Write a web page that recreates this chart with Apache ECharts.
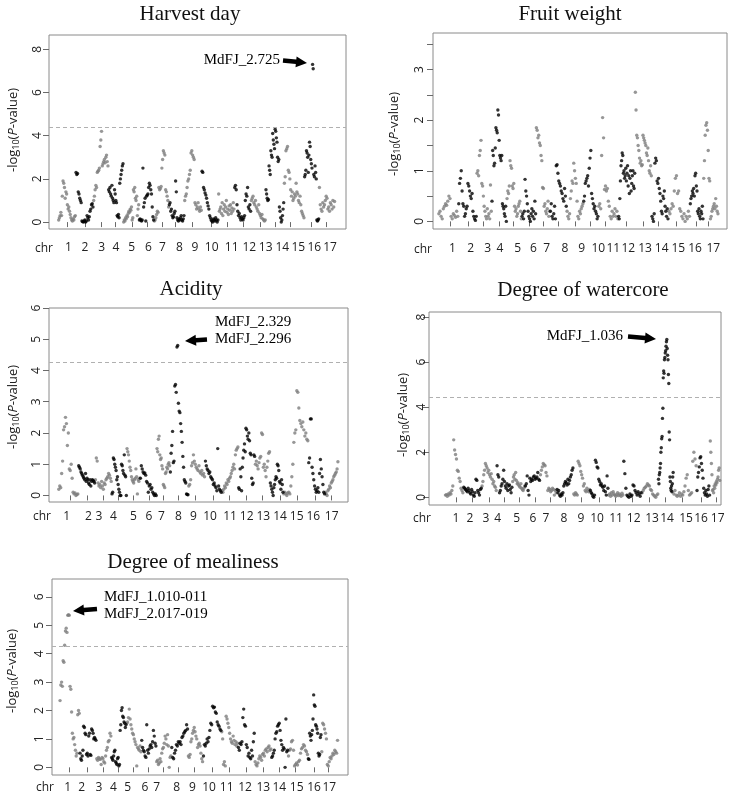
<!DOCTYPE html>
<html><head><meta charset="utf-8">
<script src="https://cdn.jsdelivr.net/npm/echarts@6/dist/echarts.min.js"></script>
<style>html,body{margin:0;padding:0;background:#fff}#c{width:742px;height:805px}</style>
</head><body><div id="c"></div>
<script>
const chrLabels = ['1','2','3','4','5','6','7','8','9','10','11','12','13','14','15','16','17'];

// ---------- Harvest day ----------
const harvestValues = [
 [0.1,0.2,0.3,0.45,0.3,1.2,1.9,1.8,1.6,1.1,1.4,1.3,0.8,0.6,0.7,0.5,0.35,0.2,0.1,0.05,0.15,0.1,0.25,0.3],
 [2.3,2.2,2.25,1.4,1.3,1.1,1.0,0.9,0.05,0.02,0.0,0.05,0.1,0.0,0.05,0.3,0.2,0.1,0.25,0.5,0.6,0.8,0.85,0.7],
 [1.0,1.2,1.5,1.7,1.6,2.3,2.35,2.4,2.5,3.5,3.8,4.2,2.6,2.7,2.8,2.9,2.75,3.0,3.1,2.8,2.6],
 [1.5,1.4,1.6,1.3,1.2,1.7,1.1,1.0,0.9,1.5,1.3,1.0,0.9,0.3,0.25,0.35,0.2,1.8,2.0,2.2,2.4,2.6,2.7],
 [0.0,0.1,0.05,0.2,0.15,0.3,0.25,0.4,0.5,0.45,0.6,0.55,0.7,0.1,0.2,1.5,1.4,1.6,1.1,1.0,1.2,0.3,0.6,0.8],
 [0.1,0.15,0.1,0.05,0.1,2.5,0.7,0.9,1.1,0.05,1.2,1.25,1.3,1.6,1.8,1.7,1.5,1.3,0.7,0.25,0.1],
 [0.05,0.1,0.2,0.35,0.5,0.45,1.6,1.5,1.55,1.65,2.5,2.9,3.3,3.2,3.1,1.5,1.4,1.2,1.0,0.7],
 [0.8,0.9,0.5,0.6,0.3,0.2,0.25,0.4,0.5,1.9,1.4,0.2,0.1,0.05,0.15,0.1,0.2,0.3,0.1,0.05,0.15,0.3],
 [1.0,1.2,1.3,1.6,1.9,2.0,2.2,2.4,3.2,3.3,3.1,3.0,2.9,0.9,0.8,0.6,0.7,0.9,0.6,0.5,0.7,0.55],
 [2.35,2.3,1.6,1.5,1.35,1.25,1.1,0.9,0.75,0.6,0.3,0.2,0.1,0.05,0.0,0.15,0.1,0.05,0.2,0.1,0.0,0.1],
 [1.3,0.5,0.6,0.7,0.4,0.9,0.3,0.6,0.8,0.5,0.7,1.0,0.45,0.6,0.35,0.75,0.55,0.8,0.4,0.65,0.5,0.9,0.6],
 [1.6,1.7,1.5,0.8,0.5,0.3,0.4,0.2,0.1,0.25,0.15,0.1,0.2,0.3,1.0,1.3,1.2,1.6,0.7,0.6,0.8,0.5],
 [1.0,1.1,1.2,0.9,0.8,1.0,0.7,0.6,0.5,0.8,0.4,0.3,0.2,0.35,0.15,0.1,0.05,0.1],
 [1.5,1.3,1.1,1.0,1.05,2.6,2.4,2.2,3.3,3.1,3.0,4.1,3.8,3.6,3.4,4.3,4.2,3.9,3.7,3.0,2.8,2.9,0.7,0.5,0.2,0.0,0.1,0.3,0.6,0.9],
 [1.8,2.1,3.3,3.4,3.5,2.4,2.3,2.0,1.5,1.2,1.4,1.0,1.1,1.3,1.2,1.8,1.4,1.3,1.0,0.9,1.2,0.8,0.5,0.4,0.3,0.2],
 [2.1,2.2,2.4,3.3,3.2,3.0,2.3,3.1,3.7,3.5,2.9,2.7,2.5,7.3,7.1,2.2,2.1,2.6,2.3,2.0,0.1,0.05,0.1,0.15],
 [1.6,0.8,0.6,0.5,0.9,0.7,0.8,1.0,1.2,1.1,0.6,0.7,0.5,0.9,0.8,0.6,1.0,0.7,0.95]
];
const harvestBounds = [40,92,145,190,235,282,327,372,418,470,520,568,618,662,717,778,822,870];
const harvestTicks = [68,120,170,212,262,308,352,392,443,500,547,595,645,690,735,800,843];
const harvestLabelPos = [70,120,170,213,260,310,352,403,450,500,560,613,662,712,760,808,855];
const harvestYTicks = [0,2,4,6,8];
const harvestThreshold = 4.4;

// ---------- Fruit weight ----------
const fruitValues = [
 [0.15,0.2,0.1,0.05,0.25,0.3,0.35,0.32,0.4,0.5,0.45,0.1,0.05,0.15,0.12,0.08,0.2,0.1],
 [0.35,0.75,0.85,1.0,0.6,0.35,0.3,0.1,0.15,0.25,0.3,0.75,0.7,0.6,0.5,0.45,0.55,0.2,0.1,0.05,0.02,0.1],
 [0.95,1.0,0.9,1.3,1.4,1.6,0.75,0.7,0.5,0.3,0.2,0.1,0.05,0.25,0.1,0.15,0.05,0.72,0.2],
 [0.4,1.4,1.3,1.1,1.15,1.45,1.85,1.8,1.75,2.2,2.1,1.6,1.3,1.25,1.2,1.3,0.35,0.3,0.25,0.15,0.1,0.3,0.0],
 [0.45,0.6,0.55,0.7,1.2,1.1,1.05,0.7,0.65,0.75,0.3,0.2,0.25,0.1,0.15,0.3,0.35,0.4,0.2,0.05],
 [0.1,0.15,0.05,0.2,0.83,0.6,0.5,0.35,0.2,0.1,0.05,0.0,0.15,0.25,0.1,0.2,0.05,0.4,0.15],
 [1.85,1.8,1.65,1.7,1.55,1.5,1.3,1.2,0.67,0.65,0.3,0.35,0.2,0.15,0.25,0.4,0.1,0.2],
 [0.2,0.35,0.1,0.05,0.15,0.3,0.05,1.1,1.12,0.95,0.8,0.75,0.7,0.6,0.55,0.45,0.4,0.65,0.5,0.3],
 [0.2,0.1,0.05,0.15,0.45,0.6,0.8,0.75,1.15,1.0,0.85,0.75,0.4,0.1,0.05,0.2,0.15,0.25,0.3,0.35],
 [0.4,0.5,0.75,0.8,0.85,0.9,0.7,1.05,1.25,1.4,0.55,0.45,0.35,0.25,0.3,0.2,0.15,0.05,0.1],
 [0.3,0.35,0.25,1.3,2.05,1.65,0.63,0.7,0.6,0.65,0.4,0.3,0.1,0.05,0.2,0.1,0.15,0.25,0.1,0.2,0.05],
 [0.1,0.05,0.45,0.8,1.1,1.2,1.35,1.3,0.95,1.0,0.85,0.9,1.05,0.8,0.95,1.1,0.7,0.9,0.55,0.85,1.0,0.6,0.75,0.9,1.0,0.7,0.65,0.95],
 [2.55,2.2,1.7,1.65,1.5,1.4,1.25,1.15,1.2,1.1,1.12,1.7,1.65,1.6,1.55,1.5,1.35,1.3,1.45,1.2,1.0,0.95,1.1,0.9],
 [0.1,0.05,0.0,0.15,1.15,1.25,1.2,0.8,0.75,0.85,0.65,0.55,0.4,0.2,0.15,0.5,0.45,0.6,0.3,0.2,0.1,0.25,0.05],
 [0.2,0.15,0.25,0.35,0.3,0.6,0.85,0.9,0.55,0.6,0.25,0.2,0.1,0.05,0.15,0.0,0.1,0.05,0.2,0.1],
 [0.35,0.45,0.5,0.6,0.55,0.65,0.5,0.9,0.95,0.7,0.6,0.2,0.15,0.25,0.1,0.05,0.2,0.15,0.3,0.05],
 [0.85,1.2,1.7,1.9,1.95,1.8,1.4,0.85,0.8,0.05,0.1,0.2,0.25,0.3,0.35,0.25,0.45,0.3,0.2,0.15]
];
const fruitBounds = [25,85,140,185,230,275,318,360,410,460,505,565,615,665,715,780,820,865];
const fruitTicks = [62,115,160,207,250,297,340,385,435,480,525,590,640,685,740,800,835];
const fruitLabelPos = [67,122,173,210,263,310,350,405,455,505,550,595,645,695,745,795,850];
const fruitYTicks = [0,0.5,1,1.5,2,2.5,3,3.5];
const fruitYLabels = [0,1,2,3];

// ---------- Acidity ----------
const acidityValues = [
 [0.2,0.3,0.25,0.7,1.1,2.1,2.2,2.5,2.3,1.6,2.0,0.85,0.8,1.0,0.55,0.1,0.05,0.08,0.0,0.03,0.05],
 [0.95,0.9,0.85,0.75,0.7,0.65,0.6,0.55,0.5,0.7,0.45,0.55,0.5,0.4,0.35,0.5,0.3,0.45,0.5,0.48,0.45,0.4],
 [0.5,1.2,1.1,0.4,0.3,0.35,0.25,0.45,0.3,0.2,0.4,0.35,0.5,0.55,0.6,0.7,0.65,0.55,0.45],
 [0.05,0.1,1.2,1.15,1.0,0.9,0.8,0.5,0.6,0.35,0.2,0.1,0.0,0.0,1.0,0.95,0.8,0.7,1.3,0.65,0.6,0.0],
 [1.5,1.4,1.3,1.1,0.9,0.8,0.6,0.5,0.45,0.4,0.5,0.55,0.85,0.6,0.05,0.5,0.45,0.55],
 [0.55,0.95,0.85,0.75,0.7,0.72,0.65,0.45,0.4,0.1,0.3,0.35,0.2,0.25,0.1,0.05,0.0,0.05,0.0],
 [1.5,1.4,1.8,1.9,1.3,1.15,1.2,0.95,0.85,0.35,0.3,0.25,0.7,0.75,0.9,0.85,1.0,1.05,0.95],
 [0.75,1.35,1.6,2.05,1.05,1.1,3.5,3.55,3.3,4.75,4.8,2.95,2.7,2.65,2.3,2.05,1.7,1.25,0.9,0.5,0.45,0.4,0.05,0.03,0.02],
 [0.3,0.35,0.5,0.95,1.05,1.3,1.1,1.0,0.9,0.85,0.8,0.95,0.75,0.7,0.8,0.65,0.7,0.6],
 [1.1,0.95,0.85,0.8,0.7,0.75,0.6,0.55,0.5,0.35,0.4,0.3,0.25,0.15,1.5,0.3,0.2,0.15,0.1],
 [0.15,0.1,0.2,0.3,0.25,0.4,0.35,0.5,0.45,0.55,0.6,0.7,0.8,0.9,1.0,0.85,1.3,1.45,1.5,1.55],
 [0.25,0.2,0.85,0.6,0.15,0.9,1.2,1.45,1.65,1.4,2.15,2.1,1.9,1.8,2.0,1.75,1.35,1.3,0.55,0.35,0.4,1.3,1.25],
 [1.0,1.1,0.95,0.85,1.05,1.2,1.25,2.0,1.95,0.9,1.0,0.8,0.6,0.9,1.1,1.35,1.4],
 [0.4,0.3,0.2,0.1,0.0,0.25,0.35,0.5,0.6,0.55,1.0,0.95,0.8,0.45,0.4,0.2,0.5,0.35,0.1],
 [0.05,0.1,0.05,0.0,0.08,0.1,0.05,0.3,0.6,1.0,1.7,2.0,2.1,3.35,3.3,2.8,2.4,2.3,2.2,2.35,2.1,1.9,2.0,1.8,1.75],
 [1.05,1.2,2.45,2.45,0.9,0.7,0.5,0.3,0.2,0.1,0.15,0.25,0.1,0.7,1.15,0.85,0.6,0.35,0.1,0.05],
 [0.1,0.05,0.0,0.15,0.2,0.3,0.25,0.4,0.45,0.5,0.6,0.65,0.7,0.75,0.85,1.08]
];
const acidityBounds = [40,100,150,200,245,285,335,375,430,480,530,580,630,675,715,790,840,880];
const acidityTicks = [75,128,175,220,265,312,355,400,450,505,553,605,652,705,757,812,860];
const acidityLabelPos = [65,130,162,205,265,312,349,400,445,495,555,605,655,705,755,805,860];
const acidityYTicks = [0,1,2,3,4,5,6];
const acidityThreshold = 4.25;

// ---------- Degree of watercore ----------
const watercoreValues = [
 [0.1,0.12,0.05,0.15,0.1,0.2,0.15,0.3,0.5,2.55,2.1,1.9,1.7,1.2,1.15,0.85,0.7,0.4,0.3,0.2],
 [0.45,0.4,0.35,0.3,0.25,0.4,0.3,0.2,0.15,0.35,0.25,0.1,0.05,0.2,0.8,0.75,0.3,0.2,0.1,0.35,0.4],
 [0.5,0.7,1.0,1.2,1.5,1.4,1.3,1.1,1.2,1.0,0.9,1.05,0.8,0.6,0.7,0.5,0.45,0.3],
 [1.4,1.0,0.9,0.2,0.3,0.5,0.6,0.8,1.2,0.7,0.5,0.4,0.6,0.3,0.5,0.55,0.35,0.2,0.45],
 [0.7,0.9,1.0,0.8,1.1,0.75,0.6,0.65,0.55,0.5,0.45,0.6,0.4,0.35,0.3,0.4,0.5],
 [0.5,0.6,0.95,0.3,0.1,0.85,0.7,0.8,0.75,0.9,0.95,0.8,0.85,0.9,1.1,0.8,0.75],
 [1.0,1.2,1.35,1.5,1.45,1.4,1.1,0.95,0.3,0.4,0.35,0.25,0.3,0.4,0.35,0.1,0.3,0.2],
 [0.35,0.2,0.3,0.1,0.05,0.15,0.1,0.2,0.5,0.6,0.7,0.65,0.55,0.8,0.6,0.75,0.9,1.0,1.2,1.3],
 [0.15,0.1,0.2,0.15,0.1,1.6,1.5,1.4,1.15,1.0,0.85,0.5,0.6,0.3,0.25,0.4,0.3,0.25,0.35],
 [0.3,0.2,0.15,0.05,0.0,0.1,1.65,1.55,1.35,1.3,0.8,0.7,0.55,0.6,0.5,0.45,0.3,0.5,0.25,0.1,0.95,0.4],
 [0.1,0.15,0.05,0.2,0.1,0.25,0.15,0.1,0.05,0.12,0.2,0.08,0.15,0.1,0.05,0.18,0.1],
 [1.6,1.05,0.4,0.1,0.05,0.0,0.15,0.05,0.1,0.55,0.5,0.3,0.2,0.1,0.25,0.15,0.05,0.2],
 [0.2,0.3,0.4,0.45,0.5,0.6,0.55,0.5,0.35,0.3,0.15,0.1,0.05,0.0,0.1,0.15],
 [0.8,0.6,1.0,1.1,1.3,1.5,2.0,2.2,2.6,2.7,3.5,3.95,5.3,5.6,5.5,6.1,6.2,6.4,6.5,6.7,6.9,7.0,6.6,6.3,6.1,5.45,5.05,2.9,2.55,0.9,0.7,0.4,0.3,0.5,0.25,0.6,0.9,1.1],
 [0.15,0.3,0.1,0.05,0.1,0.2,0.05,0.15,0.1,0.25,0.5,0.85,1.0,0.3,0.1,0.15,0.2,1.6,2.0,1.7,1.4],
 [0.3,0.9,1.1,1.35,1.75,1.8,1.5,1.2,0.85,0.4,0.2,0.1,0.3,0.15,0.05,0.35,0.5,0.1],
 [2.5,2.0,1.5,1.0,0.3,0.35,0.2,0.5,0.4,0.6,0.55,0.7,0.65,0.8,0.9,1.2,1.3,0.75]
];
const watercoreBounds = [60,115,170,215,262,300,345,395,445,495,550,595,650,700,745,815,855,885];
const watercoreTicks = [95,143,193,238,283,330,375,422,470,522,572,622,672,720,772,830,875];
const watercoreLabelPos = [93,135,183,218,275,324,363,417,468,516,573,626,681,726,783,828,878];
const watercoreYTicks = [0,2,4,6,8];
const watercoreThreshold = 4.42;

// ---------- Degree of mealiness ----------
const mealinessValues = [
 [2.35,2.9,3.0,2.85,3.75,3.7,4.3,4.8,4.9,4.75,5.35,5.37,5.35,2.85,2.75,1.95,1.2,1.0,1.05,0.8,0.6,0.4,0.5,1.85,2.0,1.9],
 [0.5,0.3,0.25,0.4,0.6,1.45,1.4,1.2,1.15,0.45,0.5,0.4,1.1,1.2,0.45,0.42,1.35,1.3,1.2,1.0,1.05,1.0,0.95],
 [0.3,0.25,0.35,0.3,0.28,0.1,0.35,0.3,0.2,0.15,0.4,0.6,0.7,0.9,0.95,1.2,1.1],
 [0.35,0.3,0.25,0.4,0.55,0.6,0.2,0.15,0.1,0.3,0.35,0.05,0.1,1.3,1.5,2.0,2.1,1.8,1.75,1.6,1.55,1.4,1.5],
 [1.55,1.6,1.75,2.05,1.7,1.5,1.35,1.2,1.15,1.0,0.9,0.8,0.05,0.7,0.65,0.6,0.75,0.55],
 [0.95,0.7,0.6,0.55,0.4,0.35,1.5,0.6,0.5,0.65,0.75,0.8,0.7,0.9,1.3,1.1,0.85,0.75],
 [0.2,0.25,0.1,0.15,0.3,0.2,0.5,0.65,0.7,0.85,1.1,1.0,0.8,1.15,0.75,0.0,0.35,0.4],
 [0.7,0.35,0.3,0.5,0.6,0.8,0.75,0.9,0.85,0.9,0.8,1.05,1.1,1.2,1.25,1.3,1.5,1.35],
 [0.4,0.35,0.45,0.9,1.0,1.2,1.3,1.4,1.25,1.1,1.0,0.7,0.8,0.85,0.75,0.5,0.3,0.2],
 [0.4,0.8,0.75,0.85,1.0,0.9,1.05,1.3,1.55,1.5,2.15,2.1,2.12,1.95,1.9,1.6,1.5,1.45,1.35,1.3],
 [1.25,1.0,0.1,0.2,0.05,1.8,1.7,1.55,1.4,1.2,1.0,0.9,0.85,1.1,0.95,0.8,0.9,0.75,0.85],
 [0.7,0.6,0.85,0.8,0.9,1.75,2.05,1.5,1.45,0.8,0.7,0.4,0.5,0.35,0.3,0.6,0.4,0.9,1.2],
 [0.2,0.1,0.05,0.15,0.3,0.4,0.35,0.25,0.45,0.5,0.4,0.6,0.65,0.55,0.7,0.75,0.6,0.65],
 [0.35,0.4,0.5,0.6,1.0,1.2,1.25,1.45,1.5,1.55,1.3,0.95,0.8,0.6,0.7,0.65,0.0,1.7,0.55,0.6],
 [0.4,0.6,0.65,0.9,0.95,0.6,0.05,0.1,0.15,0.08,0.2,0.25,0.5,0.65,0.7,0.8,0.75,0.6,0.55,0.45],
 [0.3,0.28,1.2,1.1,0.95,1.15,1.3,1.7,2.55,2.2,2.15,1.5,1.45,1.35,1.2,0.5,0.4,0.45,1.05,1.15],
 [0.55,1.55,1.5,1.35,1.2,1.0,0.1,0.05,0.2,0.35,0.3,0.4,0.5,0.45,0.6,0.55,0.5,0.95]
];
const mealinessBounds = [35,95,145,190,235,280,325,370,420,465,520,570,620,670,720,780,820,870];
const mealinessTicks = [65,118,165,210,255,302,345,392,440,492,545,595,645,695,742,800,840];
const mealinessLabelPos = [59,101,153,196,239,291,326,386,433,483,536,591,646,694,746,798,844];
const mealinessYTicks = [0,1,2,3,4,5,6];
const mealinessThreshold = 4.27;

// ---------- layout ----------
const panels = [
 {title:'Harvest day', values:harvestValues, bounds:harvestBounds, ticks:harvestTicks, labelPos:harvestLabelPos, yTicks:harvestYTicks, yLabels:harvestYTicks, thr:harvestThreshold,
  grid:{left:49,top:35,width:297,height:194}, xr:[12,903], yr:[-0.32,8.66], titleXY:[190,14], yName:[13,130], chr:[44,249], xOff:4, xMar:9, yMar:5},
 {title:'Fruit weight', values:fruitValues, bounds:fruitBounds, ticks:fruitTicks, labelPos:fruitLabelPos, yTicks:fruitYTicks, yLabels:fruitYLabels, thr:null,
  grid:{left:433,top:33,width:294,height:196}, xr:[9,891], yr:[-0.15,3.72], titleXY:[570,14], yName:[394,134], chr:[423,250], xOff:3, xMar:11, yMar:7},
 {title:'Acidity', values:acidityValues, bounds:acidityBounds, ticks:acidityTicks, labelPos:acidityLabelPos, yTicks:acidityYTicks, yLabels:acidityYTicks, thr:acidityThreshold,
  grid:{left:49,top:308,width:299,height:194}, xr:[12,909], yr:[-0.21,6.0], titleXY:[191,289], yName:[13,407], chr:[42,517], xOff:4, xMar:5, yMar:6},
 {title:'Degree of watercore', values:watercoreValues, bounds:watercoreBounds, ticks:watercoreTicks, labelPos:watercoreLabelPos, yTicks:watercoreYTicks, yLabels:watercoreYTicks, thr:watercoreThreshold,
  grid:{left:429,top:312,width:292,height:193}, xr:[12,888], yr:[-0.34,8.22], titleXY:[583,290], yName:[403,415], chr:[422,519], xOff:2, xMar:6, yMar:1},
 {title:'Degree of mealiness', values:mealinessValues, bounds:mealinessBounds, ticks:mealinessTicks, labelPos:mealinessLabelPos, yTicks:mealinessYTicks, yLabels:mealinessYTicks, thr:mealinessThreshold,
  grid:{left:52,top:579,width:296,height:196}, xr:[12,900], yr:[-0.27,6.63], titleXY:[193,562], yName:[12,671], chr:[45,788], xOff:3, xMar:4, yMar:6}
];

const GRAY = '#7d7d7d', BLACK = '#000';
const SANS = '"Open Sans", "Liberation Sans", sans-serif';
const SERIF = '"Liberation Serif", "Times New Roman", serif';

function pointsFor(p, parity) {
  const out = [];
  p.values.forEach((vals, c) => {
    if (c % 2 !== parity) return;
    const a = p.bounds[c], b = p.bounds[c + 1];
    vals.forEach((v, i) => out.push([a + (i + 0.5) / vals.length * (b - a), v]));
  });
  return out;
}

const grids = [], xAxes = [], yAxes = [], series = [], graphics = [];
panels.forEach((p, gi) => {
  grids.push(Object.assign({show:true, borderColor:'#8a8a8a', borderWidth:1, backgroundColor:'transparent'}, p.grid));
  xAxes.push({type:'value', gridIndex:gi, min:p.xr[0], max:p.xr[1], offset:p.xOff,
    axisLine:{show:false}, splitLine:{show:false},
    axisTick:{show:true, length:5, lineStyle:{color:'#6a6a6a'}, customValues:p.ticks},
    axisLabel:{customValues:p.labelPos, interval:0, hideOverlap:false, showMinLabel:true, showMaxLabel:true,
      margin:p.xMar, fontSize:12, fontFamily:SANS, color:'#222',
      formatter:(v)=>{const k=p.labelPos.indexOf(v); return k>=0?chrLabels[k]:'';}}});
  yAxes.push({type:'value', gridIndex:gi, min:p.yr[0], max:p.yr[1],
    axisLine:{show:false}, splitLine:{show:false},
    axisTick:{show:true, length:6, lineStyle:{color:'#6a6a6a'}, customValues:p.yTicks},
    axisLabel:{customValues:p.yLabels, hideOverlap:false, rotate:90, margin:p.yMar, fontSize:12, fontFamily:SANS, color:'#222',
      formatter:(v)=>String(v)}});
  const gray = {type:'scatter', xAxisIndex:gi, yAxisIndex:gi, symbol:'circle', symbolSize:3.4,
    itemStyle:{color:GRAY}, data:pointsFor(p, 0), silent:true};
  if (p.thr !== null) {
    gray.markLine = {silent:true, symbol:['none','none'], label:{show:false},
      lineStyle:{type:[4,3], color:'#b0b0b0', width:1}, data:[{yAxis:p.thr}]};
  }
  series.push(gray);
  series.push({type:'scatter', xAxisIndex:gi, yAxisIndex:gi, symbol:'circle', symbolSize:3.4,
    itemStyle:{color:BLACK}, data:pointsFor(p, 1), silent:true});
  graphics.push({type:'text', x:p.titleXY[0], y:p.titleXY[1],
    style:{text:p.title, font:'21px '+SERIF, fill:'#111', textAlign:'center', textVerticalAlign:'middle', align:'center', verticalAlign:'middle'}});
  graphics.push({type:'text', x:p.chr[0], y:p.chr[1],
    style:{text:'chr', font:'12px '+SANS, fill:'#222', textAlign:'center', textVerticalAlign:'middle', align:'center', verticalAlign:'middle'}});
  graphics.push({type:'text', x:p.yName[0], y:p.yName[1], rotation:Math.PI/2,
    style:{text:'{t|-log}{s|10}{t|(}{i|P}{t|-value)}', textAlign:'center', textVerticalAlign:'middle', align:'center', verticalAlign:'middle',
      rich:{t:{fontSize:13, fontFamily:SANS, fill:'#222', color:'#222', lineHeight:16},
            s:{fontSize:9, fontFamily:SANS, fill:'#222', color:'#222', padding:[7,0,0,0], lineHeight:16},
            i:{fontSize:13, fontFamily:SANS, fontStyle:'italic', fill:'#222', color:'#222', lineHeight:16}}}});
});

function arrow(x1, y1, x2, y2) {
  const sw = 4.5, hl = 11, hw = 11;
  const dx = x2 - x1, dy = y2 - y1, L = Math.hypot(dx, dy);
  const ux = dx / L, uy = dy / L, px = -uy, py = ux;
  const bx = x2 - ux * hl, by = y2 - uy * hl;
  return {type:'polygon', shape:{points:[
    [x1 + px*sw/2, y1 + py*sw/2], [bx + px*sw/2, by + py*sw/2], [bx + px*hw/2, by + py*hw/2],
    [x2, y2], [bx - px*hw/2, by - py*hw/2], [bx - px*sw/2, by - py*sw/2], [x1 - px*sw/2, y1 - py*sw/2]]},
    style:{fill:'#000'}};
}
function note(text, x, y, align) {
  return {type:'text', x:x, y:y, style:{text:text, font:'15px '+SERIF, fill:'#000',
    textAlign:align, align:align, textVerticalAlign:'middle', verticalAlign:'middle'}};
}
graphics.push(note('MdFJ_2.725', 280, 60, 'right'), arrow(283, 60.5, 307, 63));
graphics.push(note('MdFJ_2.329', 215, 322, 'left'), note('MdFJ_2.296', 215, 339.5, 'left'), arrow(207, 339.5, 185, 341));
graphics.push(note('MdFJ_1.036', 623, 336, 'right'), arrow(628, 336.5, 656, 339));
graphics.push(note('MdFJ_1.010-011', 104, 597, 'left'), note('MdFJ_2.017-019', 104, 614.5, 'left'), arrow(97, 609, 73, 611));

const chart = echarts.init(document.getElementById('c'), null, {renderer:'canvas'});
chart.setOption({animation:false, backgroundColor:'#fff', grid:grids, xAxis:xAxes, yAxis:yAxes, series:series, graphic:graphics});
</script></body></html>
